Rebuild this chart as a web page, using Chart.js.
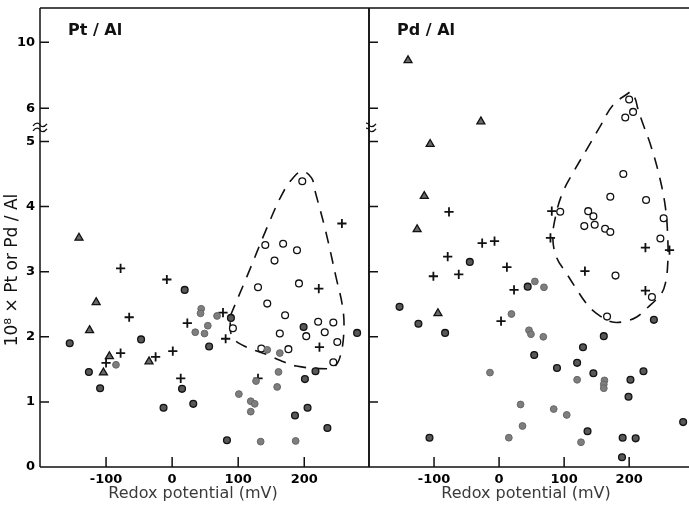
<!DOCTYPE html>
<html>
<head>
<meta charset="utf-8">
<script src="https://cdn.jsdelivr.net/npm/chart.js@4.4.0/dist/chart.umd.min.js"></script>
<style>
  body { margin: 0; background: #fff; width: 689px; height: 506px; overflow: hidden; position: relative; }
  canvas { position: absolute; top: 0; }
  #ptChart { left: 0; }
  #pdChart { left: 366px; }
</style>
</head>
<body>
<canvas id="ptChart" width="372" height="506"></canvas>
<canvas id="pdChart" width="323" height="506"></canvas>
<script>
// axis ticks
var xTicks = [-100, 0, 100, 200];
var yTicks = [0, 1, 2, 3, 4, 5, 6, 10];
var yTickText = ['0', '1', '2', '3', '4', '5', '6', '10'];

// Pt / Al  [redox mV, 10^8 x Pt/Al]
var ptDark = [[-155,1.90],[-126,1.46],[-109,1.21],[-47,1.96],[-13,0.91],[15,1.20],[19,2.72],[32,0.97],[56,1.85],
  [83,0.41],[89,2.29],[186,0.79],[199,2.15],[201,1.35],[205,0.91],[217,1.47],[235,0.60],[280,2.06]];
var ptGray = [[-85,1.57],[35,2.07],[44,2.43],[43,2.36],[49,2.05],[54,2.17],[68,2.32],[101,1.12],[119,1.01],
  [125,0.97],[119,0.85],[127,1.32],[134,0.39],[144,1.80],[159,1.23],[161,1.46],[163,1.75],[187,0.40]];
var ptOpen = [[92,2.13],[130,2.76],[135,1.82],[141,3.41],[144,2.51],[155,3.17],[163,2.05],[168,3.43],[171,2.33],
  [176,1.81],[189,3.33],[192,2.82],[197,4.39],[203,2.01],[221,2.23],[231,2.07],[244,2.22],[244,1.61],[250,1.92]];
var ptCross = [[-100,1.60],[-78,3.05],[-78,1.75],[-65,2.30],[-25,1.69],[-8,2.88],[1,1.78],[13,1.36],[23,2.21],
  [77,2.37],[81,1.97],[130,1.36],[222,2.74],[223,1.84],[257,3.74]];
var ptTri = [[-141,3.52],[-125,2.10],[-115,2.53],[-104,1.45],[-95,1.70],[-35,1.62]];
var ptLoop = [[88,2.32],[113,2.92],[145,3.71],[167,4.20],[183,4.44],[197,4.54],[211,4.44],[216,4.25],[232,3.64],
  [248,2.92],[258,2.46],[260,2.10],[255,1.72],[246,1.54],[233,1.51],[188,1.55],[163,1.64],[145,1.72],[105,1.88],
  [90,2.02],[88,2.32]];

// Pd / Al
var pdDark = [[-153,2.46],[-124,2.20],[-107,0.45],[-83,2.06],[-45,3.15],[44,2.77],[54,1.72],[89,1.52],[120,1.60],
  [129,1.84],[136,0.55],[145,1.44],[161,2.01],[189,0.15],[190,0.45],[199,1.08],[202,1.34],[210,0.44],[222,1.47],
  [238,2.26],[283,0.69]];
var pdGray = [[-14,1.45],[15,0.45],[19,2.35],[33,0.96],[36,0.63],[46,2.10],[49,2.04],[55,2.85],[68,2.00],[69,2.76],
  [84,0.89],[104,0.80],[120,1.34],[126,0.38],[162,1.33],[161,1.27],[161,1.21]];
var pdOpen = [[94,3.92],[131,3.70],[137,3.93],[145,3.85],[147,3.72],[163,3.66],[166,2.31],[171,4.15],[171,3.61],
  [179,2.94],[191,4.50],[194,5.72],[200,6.53],[206,5.89],[226,4.10],[235,2.61],[248,3.51],[253,3.82]];
var pdCross = [[-101,2.93],[-79,3.23],[-77,3.92],[-62,2.96],[-26,3.44],[-7,3.47],[3,2.24],[12,3.07],[23,2.72],
  [79,3.52],[81,3.93],[132,3.01],[225,3.37],[225,2.71],[262,3.33]];
var pdTri = [[-140,8.9],[-126,3.65],[-115,4.16],[-106,4.96],[-94,2.36],[-28,5.6]];
var pdLoop = [[200.6,6.97],[175,6.18],[154.7,5.43],[134.8,4.88],[114.9,4.54],[98,4.22],[87.3,3.87],[82.7,3.51],
  [88.8,3.21],[102.6,2.99],[116,2.78],[134.3,2.51],[149.6,2.36],[172.6,2.23],[190.4,2.23],[210.9,2.30],
  [226.2,2.43],[249.2,2.66],[255.7,2.82],[259.3,3.12],[259.3,3.53],[255.7,3.99],[246.6,4.46],[233.8,4.92],
  [221,5.54],[213.3,5.99],[208.3,6.67],[200.6,6.97]];

// broken y axis: linear to 5, squeezed above
function toAxis(v) {
  if (v <= 5) return v;
  if (v <= 6) return 5 + (v - 5) * 0.51;
  return 5.51 + (v - 6) * 0.2535;
}
function pts(arr) {
  return arr.map(function(p) { return { x: p[0], y: toAxis(p[1]) }; });
}

var tickFont = { family: 'DejaVu Sans', size: 13, weight: 'bold' };

function makeSets(dark, gray, open, cross, tri, loop) {
  return [
    { data: pts(loop), showLine: true, tension: 0.4, pointRadius: 0, borderColor: '#111', borderWidth: 1.6,
      borderDash: [12, 9], fill: false, order: 10 },
    { data: pts(gray), pointStyle: 'circle', pointRadius: 3.4, backgroundColor: '#7e7e7e', borderColor: '#666', borderWidth: 1 },
    { data: pts(dark), pointStyle: 'circle', pointRadius: 3.4, backgroundColor: '#585858', borderColor: '#111', borderWidth: 1.3 },
    { data: pts(open), pointStyle: 'circle', pointRadius: 3.4, backgroundColor: '#fff', borderColor: '#111', borderWidth: 1.3 },
    { data: pts(tri), pointStyle: 'triangle', pointRadius: 4.6, backgroundColor: '#6a6a6a', borderColor: '#111', borderWidth: 1.3 },
    { data: pts(cross), pointStyle: 'cross', pointRadius: 4.6, borderColor: '#111', borderWidth: 1.8 }
  ];
}

function drawBreak(ctx, x, y) {
  ctx.lineWidth = 1.3;
  [-2.5, 2.5].forEach(function(dy) {
    ctx.beginPath();
    ctx.moveTo(x - 7, y + dy + 1);
    ctx.bezierCurveTo(x - 4, y + dy - 3, x - 1, y + dy - 2, x, y + dy);
    ctx.bezierCurveTo(x + 1, y + dy + 2, x + 4, y + dy + 3, x + 7, y + dy - 1);
    ctx.stroke();
  });
}

// frame, inward ticks, break marks and texts
var frame = {
  id: 'frame',
  afterDraw: function(chart, args, o) {
    var ctx = chart.ctx, a = chart.chartArea, xs = chart.scales.x, ys = chart.scales.y;
    ctx.save();
    ctx.strokeStyle = '#111';
    ctx.lineWidth = 1.5;
    ctx.beginPath();
    ctx.moveTo(a.left, a.top); ctx.lineTo(a.right, a.top);
    ctx.moveTo(a.left, a.bottom); ctx.lineTo(a.right, a.bottom);
    ctx.moveTo(a.left, a.top); ctx.lineTo(a.left, a.bottom);
    if (o.rightLine) { ctx.moveTo(a.right, a.top); ctx.lineTo(a.right, a.bottom); }
    yTicks.forEach(function(v) {
      var py = ys.getPixelForValue(toAxis(v));
      ctx.moveTo(a.left, py); ctx.lineTo(a.left + 9, py);
    });
    xTicks.forEach(function(v) {
      var px = xs.getPixelForValue(v);
      ctx.moveTo(px, a.bottom); ctx.lineTo(px, a.bottom - 10);
    });
    ctx.stroke();
    drawBreak(ctx, a.left, ys.getPixelForValue(5.215));

    ctx.fillStyle = '#111';
    ctx.font = 'bold 16px "DejaVu Sans"';
    ctx.textAlign = 'left';
    ctx.textBaseline = 'alphabetic';
    ctx.fillText(o.label, o.labelX, 35);

    ctx.fillStyle = '#3a3a3a';
    ctx.font = '16px "DejaVu Sans"';
    ctx.textAlign = 'center';
    ctx.textBaseline = 'middle';
    ctx.fillText('Redox potential (mV)', o.titleX, 494);

    if (o.yTitle) {
      ctx.fillStyle = '#111';
      ctx.font = '17px "DejaVu Sans"';
      ctx.translate(13, 270);
      ctx.rotate(-Math.PI / 2);
      ctx.fillText(o.yTitle, 0, 0);
    }
    ctx.restore();
  }
};

function panelOptions(xMax, pad, showY, frameOpts) {
  return {
    responsive: false,
    animation: false,
    devicePixelRatio: 1,
    layout: { padding: pad, autoPadding: false },
    plugins: { legend: { display: false }, tooltip: { enabled: false }, frame: frameOpts },
    scales: {
      x: {
        type: 'linear', min: -200, max: xMax,
        grid: { display: false, drawTicks: false }, border: { display: false },
        afterBuildTicks: function(s) { s.ticks = xTicks.map(function(v) { return { value: v }; }); },
        afterFit: function(s) { s.height = 39; s.paddingLeft = 0; s.paddingRight = 0; },
        ticks: { font: tickFont, color: '#000', padding: 5, maxRotation: 0,
          callback: function(v) { return String(v); } }
      },
      y: {
        type: 'linear', min: 0, max: 7.05, display: showY,
        grid: { display: false, drawTicks: false }, border: { display: false },
        afterBuildTicks: function(s) { s.ticks = yTicks.map(function(v) { return { value: toAxis(v) }; }); },
        afterFit: function(s) { s.width = showY ? 40 : 0; s.paddingTop = 0; s.paddingBottom = 0; },
        ticks: { font: tickFont, color: '#000', padding: 5,
          callback: function(v, i) { return yTickText[i]; } }
      }
    }
  };
}

new Chart(document.getElementById('ptChart'), {
  type: 'scatter',
  data: { datasets: makeSets(ptDark, ptGray, ptOpen, ptCross, ptTri, ptLoop) },
  options: panelOptions(298, { top: 8, left: 0, right: 3, bottom: 0 }, true,
    { label: 'Pt / Al', labelX: 68, titleX: 193, rightLine: true, yTitle: '10\u2078 \u00d7 Pt or Pd / Al' }),
  plugins: [frame]
});

new Chart(document.getElementById('pdChart'), {
  type: 'scatter',
  data: { datasets: makeSets(pdDark, pdGray, pdOpen, pdCross, pdTri, pdLoop) },
  options: panelOptions(292, { top: 8, left: 3, right: 0, bottom: 0 }, false,
    { label: 'Pd / Al', labelX: 31, titleX: 160, rightLine: false }),
  plugins: [frame]
});
</script>
</body>
</html>
